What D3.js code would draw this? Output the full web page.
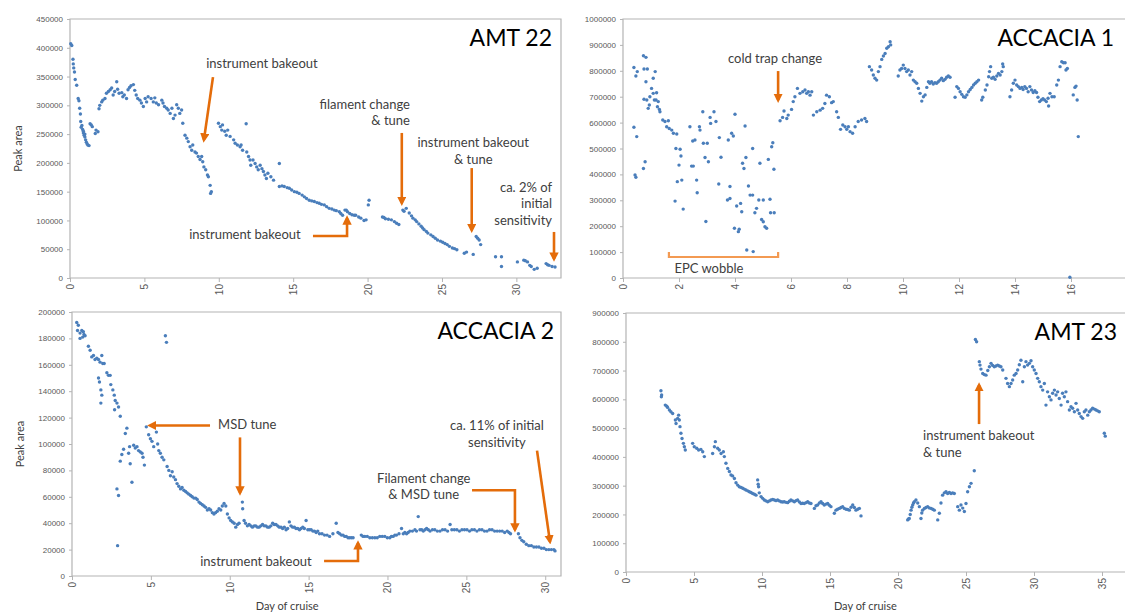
<!DOCTYPE html>
<html>
<head>
<meta charset="utf-8">
<script src="https://cdn.jsdelivr.net/npm/d3@7"></script>
<style>
  body { margin: 0; background: #fff; }
  svg text { font-family: Lato, "Open Sans", sans-serif; }
  .tick text { font-family: "Liberation Sans", Arial, sans-serif; fill: #595959; }
</style>
</head>
<body>
<div id="chart"></div>
<script>
// peak area values are in thousands, x is day of cruise
var amt22 = [
  [0.05,407],[0.12,404],[0.2,380],[0.22,372],[0.25,365],[0.3,358],[0.35,345],[0.45,335],[0.55,312],[0.6,308],
  [0.65,295],[0.7,285],[0.72,272],[0.75,262],[0.8,265],[0.85,258],[0.9,252],[0.9,255],[0.95,248],[1.0,245],
  [1.0,250],[1.05,240],[1.1,236],[1.15,233],[1.2,231],[1.28,230],
  [1.35,268],[1.43,266],[1.5,263],[1.7,251],[1.75,257],[1.88,254],
  [1.95,294],[2.0,300],[2.13,306],[2.2,309],[2.35,312],[2.45,321],[2.58,324],[2.7,327],[2.8,330],[2.9,318],
  [3.0,324],[3.14,341],[3.2,328],[3.3,321],[3.48,322],[3.55,315],[3.65,318],[3.8,312],[3.9,327],[4.0,331],
  [4.1,334],[4.26,336],[4.35,326],[4.45,318],[4.55,312],[4.7,309],[4.8,304],[4.93,298],[5.05,312],[5.15,306],
  [5.25,315],[5.45,312],[5.6,306],[5.7,313],[5.8,304],[5.95,301],[6.17,309],[6.25,304],[6.35,298],[6.5,295],
  [6.6,292],[6.73,286],[6.85,295],[6.95,277],[7.06,283],[7.17,301],[7.28,295],[7.38,286],[7.5,292],[7.58,269],
  [7.73,248],[7.85,243],[7.95,237],[8.07,228],[8.18,222],[8.25,231],[8.4,219],[8.5,217],[8.62,211],[8.74,206],
  [8.85,211],[8.92,202],[9.0,193],[9.12,188],[9.24,179],[9.3,176],[9.42,161],[9.5,150],[9.45,147],
  [9.98,269],[10.1,263],[10.2,257],[10.25,266],[10.4,255],[10.5,248],[10.6,257],[10.76,246],[11.0,240],[11.1,234],
  [11.25,231],[11.43,228],[11.5,231],[11.6,222],[11.84,268],[11.88,219],[12.0,211],[12.1,205],[12.15,196],[12.3,205],
  [12.44,199],[12.55,193],[12.65,188],[12.78,196],[12.9,190],[13.0,185],[13.1,179],[13.2,173],[13.3,182],[13.5,176],
  [13.68,170],[14.07,199],
  [14.07,159],[14.25,160],[14.4,159],[14.6,157],[14.74,156],[14.9,153],[15.08,150],[15.25,149],[15.4,147],[15.6,144],
  [15.75,141],[15.9,138],[16.08,135],[16.25,134],[16.42,133],[16.6,131],[16.75,130],[16.9,128],[17.09,127],[17.25,124],
  [17.42,121],[17.6,120],[17.76,118],[17.9,117],[18.1,115],[18.2,112],[18.32,109],[18.48,118],[18.57,118],[18.65,115],
  [18.8,112],[18.95,110],[19.1,109],[19.2,109],[19.4,106],[19.55,104],[19.76,100],[19.9,101],[20.05,127],[20.1,135],
  [21.0,106],[21.1,105],[21.2,103],[21.4,102],[21.6,101],[21.8,98],[21.95,95],[22.1,93],
  [22.37,118],[22.45,116],[22.6,121],[22.8,113],[22.95,108],[23.05,104],[23.2,101],[23.3,98],[23.45,94],[23.6,90],
  [23.7,87],[23.8,84],[23.95,81],[24.05,78],[24.25,75],[24.4,72],[24.55,69],[24.7,66],[24.9,64],[25.05,62],
  [25.2,60],[25.35,58],[25.5,55],[25.7,52],[25.85,51],[26.0,49],[26.5,43],[26.65,45],[27.1,41],
  [27.3,72],[27.4,69],[27.5,66],[27.6,58],
  [28.6,37],[29.0,37],[29.0,20],
  [30.07,28],[30.5,31],[30.6,30],[30.75,28],[30.9,22],[31.0,20],[31.2,15],[31.4,17],
  [32.0,25],[32.1,23],[32.2,22],[32.4,20],[32.6,19]
];

var accacia1 = [
  [0.39,813],[0.46,780],[0.51,797],[0.39,582],[0.49,546],[0.43,398],[0.46,389],[0.73,423],[0.79,449],[0.73,858],
  [0.82,852],[0.75,807],[0.87,807],[0.82,758],[0.75,690],[0.85,687],[0.9,655],[0.94,668],[0.96,700],[1.02,732],
  [1.08,771],[1.15,797],[1.08,713],[1.12,687],[1.18,687],[1.2,715],[1.23,661],[1.26,681],[1.3,651],[1.32,642],
  [1.42,610],[1.5,604],[1.62,607],[1.56,584],[1.65,577],[1.74,571],[1.8,559],[1.92,556],[1.89,500],[2.04,497],
  [1.86,297],[1.94,372],[2.1,378],[2.0,436],[2.07,471],[2.15,266],[2.39,584],[2.49,529],[2.57,533],[2.45,432],
  [2.51,432],[2.63,378],[2.65,329],[2.75,571],[2.73,584],[2.85,642],[2.87,520],[3.01,520],[2.93,465],[3.05,449],
  [2.96,218],[3.11,620],[3.25,642],[3.13,597],[3.32,604],[3.44,542],[3.5,466],[3.42,363],[3.76,533],[3.88,559],
  [3.94,548],[4.0,632],[3.73,301],[3.82,307],[3.82,353],[3.98,192],[4.12,179],[4.15,188],[4.06,278],[4.24,256],
  [4.2,288],[4.36,587],[4.27,443],[4.32,423],[4.39,465],[4.48,355],[4.54,320],[4.63,320],[4.63,500],[4.42,108],
  [4.65,102],[4.71,252],[4.77,269],[4.85,301],[5.01,301],[4.89,443],[4.95,226],[5.01,217],[5.07,198],[5.13,192],
  [5.19,458],[5.25,304],[5.31,507],[5.35,522],[5.27,252],[5.4,252],[5.39,420],
  [5.61,607],[5.7,620],[5.75,645],[5.85,616],[5.9,629],[6.02,651],[6.08,681],[6.14,700],[6.23,732],[6.32,713],
  [6.42,719],[6.5,726],[6.56,713],[6.62,719],[6.68,706],[6.74,719],[6.8,629],[6.92,642],[7.04,648],[7.13,655],
  [7.21,674],[7.27,706],[7.37,700],[7.45,677],[7.51,681],[7.63,642],[7.69,620],[7.77,574],[7.85,591],[7.93,584],
  [7.99,574],[8.05,584],[8.11,565],[8.2,559],[8.29,584],[8.4,604],[8.52,610],[8.64,616],[8.7,604],
  [8.8,816],[8.88,803],[8.94,784],[9.0,771],[9.06,764],[9.12,797],[9.18,816],[9.24,844],[9.3,857],[9.36,867],
  [9.42,887],[9.48,893],[9.54,912],[9.56,900],
  [9.83,780],[9.89,803],[9.95,809],[10.01,822],[10.07,809],[10.13,797],[10.19,803],[10.25,784],[10.31,797],[10.37,764],
  [10.43,758],[10.49,752],[10.55,732],[10.61,713],[10.67,683],[10.73,700],[10.79,707],[10.85,736],[10.91,758],[10.96,752],
  [11.02,758],[11.08,749],[11.14,754],[11.2,752],[11.26,758],[11.32,764],[11.38,771],[11.44,762],[11.5,767],[11.56,775],
  [11.62,780],[11.68,775],
  [11.86,698],[11.92,739],[11.98,732],[12.04,719],[12.1,709],[12.16,700],[12.22,698],[12.28,707],[12.34,719],[12.4,728],
  [12.46,736],[12.52,745],[12.58,752],[12.64,758],[12.7,764],
  [12.81,687],[12.85,698],[12.94,726],[13.0,745],[13.06,777],[13.09,797],[13.13,816],[13.17,771],[13.23,775],[13.29,767],
  [13.35,780],[13.41,790],[13.47,784],[13.53,797],[13.58,816],[13.56,826],
  [13.82,700],[13.88,726],[13.94,752],[14.0,764],[14.06,745],[14.12,739],[14.18,732],[14.24,736],[14.29,728],[14.35,739],
  [14.41,732],[14.47,719],[14.53,739],[14.59,726],[14.65,716],[14.71,723],[14.77,716],[14.82,698],[14.88,681],[14.94,687],
  [15.0,692],[15.06,687],[15.12,681],[15.18,694],[15.2,664],[15.25,713],[15.32,700],[15.4,700],
  [15.49,745],[15.55,764],[15.61,816],[15.67,835],[15.73,831],[15.79,831],[15.82,803],[15.87,809],
  [16.08,707],[16.14,736],[16.18,741],[16.22,687],[16.26,546],[15.96,3]
];

var accacia2 = [
  [0.3,192],[0.4,190],[0.35,186],[0.51,184],[0.62,186],[0.72,185],[0.76,183],[0.51,180],[0.68,181],[0.83,182],
  [1.04,174],[1.15,171],[1.25,166],[1.36,167],[1.46,164],[1.57,165],[1.68,164],[1.78,162],[1.89,167],[1.95,161],
  [2.04,161],[1.68,150],[1.74,147],[1.83,141],[1.89,137],[1.83,131],[2.21,154],[2.31,152],[2.42,152],[2.46,145],
  [2.59,141],[2.68,137],[2.74,133],[2.85,131],[2.95,128],[3.06,121],[2.7,126],[2.85,66],[2.95,61],[2.89,23],
  [3.06,87],[3.16,92],[3.27,96],[3.38,108],[3.48,112],[3.65,98],[3.59,93],[3.8,71],[3.69,85],[3.91,99],
  [4.01,97],[4.12,98],[4.22,95],[4.33,94],[4.44,93],[4.5,90],[4.59,84],[4.71,113],[4.86,107],[4.97,104],
  [5.07,102],[5.18,98],[5.35,109],[5.43,100],[5.5,95],[5.6,93],[5.71,90],[5.82,88],[5.92,182],[5.99,177],
  [6.03,83],[6.14,80],[6.24,76],[6.35,79],[6.45,75],[6.56,73],[6.66,70],[6.77,68],[6.88,66],[6.98,67],
  [7.09,65],[7.2,64],[7.3,63],[7.41,62],[7.52,61],[7.62,60],[7.73,59],[7.84,59],[7.94,58],[8.05,56],
  [8.15,55],[8.26,54],[8.37,53],[8.47,52],[8.58,50],[8.69,51],[8.79,50],[8.9,48],[9.0,47],[9.1,48],
  [9.21,49],[9.32,51],[9.43,50],[9.53,53],[9.64,55],[9.75,53],[9.85,47],[9.96,44],[10.06,42],[10.17,41],
  [10.28,40],[10.38,37],[10.49,39],[10.59,40],[10.8,56],[10.82,51],[10.91,42],[11.0,40],[11.12,38],[11.23,39],
  [11.34,38],[11.44,37],[11.55,38],[11.65,38],[11.76,37],[11.86,37],[11.97,38],[12.08,39],[12.18,38],[12.29,38],
  [12.4,37],[12.5,37],[12.61,38],[12.72,40],[12.82,39],[12.93,39],[13.04,38],[13.14,37],[13.25,37],[13.35,36],
  [13.46,37],[13.57,35],[13.67,36],[13.78,41],[13.88,38],[13.99,37],[14.1,37],[14.2,36],[14.31,36],[14.42,35],
  [14.52,36],[14.63,37],[14.73,36],[14.84,42],[14.95,35],[15.05,35],[15.16,35],[15.27,34],[15.37,34],[15.48,33],
  [15.58,34],[15.69,32],[15.85,32],[16.01,31],[16.17,31],[16.33,30],[16.54,32],[16.75,40],[16.86,33],[16.97,32],
  [17.08,31],[17.18,31],[17.29,30],[17.39,30],[17.5,29],[17.6,29],[17.71,29],[17.82,29],
  [18.34,31],[18.45,30],[18.56,30],[18.72,30],[18.88,29],[19.04,29],[19.2,29],[19.35,29],[19.51,30],[19.67,30],
  [19.83,30],[19.99,29],[20.15,29],[20.25,30],[20.36,30],[20.47,31],[20.57,31],[20.73,32],[20.89,36],[21.0,32],
  [21.1,33],[21.21,32],[21.31,33],[21.42,34],[21.58,34],[21.74,35],[21.84,34],[21.95,45],[22.06,35],[22.17,35],
  [22.27,34],[22.38,35],[22.48,36],[22.59,35],[22.7,34],[22.85,35],[23.0,35],[23.16,34],[23.33,34],[23.49,35],
  [23.65,35],[23.81,34],[23.97,39],[24.08,35],[24.24,35],[24.4,35],[24.56,34],[24.72,35],[24.88,35],[25.04,35],
  [25.2,34],[25.35,35],[25.51,35],[25.67,34],[25.83,35],[25.99,35],[26.15,34],[26.31,34],[26.47,35],[26.63,35],
  [26.79,34],[26.95,34],[27.11,34],[27.27,34],[27.43,33],[27.59,34],[27.7,33],[27.8,32],
  [28.3,32],[28.4,29],[28.52,27],[28.64,26],[28.8,24],[28.96,23],[29.12,23],[29.28,22],[29.44,22],[29.6,22],
  [29.76,21],[29.92,21],[30.07,20],[30.23,20],[30.39,20],[30.55,20],[30.62,19]
];

var amt23 = [
  [2.57,630],[2.62,615],[2.6,609],[2.89,580],[3.0,576],[3.06,572],[3.19,563],[3.3,557],[3.43,551],[3.63,528],
  [3.68,516],[3.8,534],[3.87,545],[3.92,528],[3.97,505],[4.04,482],[4.12,464],[4.22,447],[4.29,435],[4.36,424],
  [4.9,447],[5.02,435],[5.2,430],[5.34,424],[5.51,426],[5.64,418],[5.76,401],
  [6.37,412],[6.5,435],[6.57,453],[6.74,430],[6.86,424],[6.99,412],[7.16,418],[7.23,401],[7.35,378],[7.48,360],
  [7.6,349],[7.72,337],[7.84,334],[7.97,325],[8.09,310],[8.21,302],[8.33,296],[8.46,294],[8.58,291],[8.7,288],
  [8.82,285],[8.95,282],[9.07,279],[9.19,276],[9.31,273],[9.44,270],[9.56,267],[9.68,320],[9.72,305],[9.75,296],
  [9.8,275],[9.93,262],[10.05,256],[10.17,250],[10.3,247],[10.42,244],[10.54,247],[10.66,250],[10.79,252],[10.91,250],
  [11.03,248],[11.15,250],[11.28,247],[11.4,244],[11.52,243],[11.64,244],[11.77,242],[11.89,241],[12.01,246],[12.13,250],
  [12.26,247],[12.38,244],[12.5,248],[12.62,250],[12.75,243],[12.87,238],[12.99,239],[13.11,238],[13.24,241],[13.36,244],
  [13.48,240],[13.6,238],[13.85,221],[13.97,230],[14.09,233],[14.22,240],[14.34,244],[14.46,238],[14.58,233],[14.71,236],
  [14.83,238],[14.95,232],[15.07,227],[15.32,204],[15.44,215],[15.56,218],[15.69,221],[15.81,224],[15.93,227],[16.05,221],
  [16.18,218],[16.3,217],[16.42,215],[16.55,225],[16.67,233],[16.79,224],[16.91,215],[17.04,218],[17.16,221],[17.28,195],
  [20.71,181],[20.77,184],[20.83,186],[20.9,200],[20.96,215],[21.02,225],[21.08,233],[21.14,240],[21.2,244],[21.32,250],
  [21.45,240],[21.57,227],[21.69,186],[21.75,205],[21.81,215],[21.94,221],[22.06,224],[22.18,227],[22.3,223],[22.43,221],
  [22.55,218],[22.67,215],[22.92,181],[23.04,204],[23.16,240],[23.28,267],[23.41,275],[23.53,279],[23.65,273],[23.78,276],
  [23.9,273],[24.02,275],[24.14,273],[24.39,227],[24.51,215],[24.63,233],[24.76,222],[24.88,210],[25.0,238],[25.12,279],
  [25.25,296],[25.37,308],[25.61,352],
  [25.69,808],[25.78,800],[25.98,731],[26.03,719],[26.1,705],[26.23,690],[26.35,686],[26.47,684],[26.6,700],[26.72,713],
  [26.84,725],[26.96,718],[27.08,713],[27.2,716],[27.33,719],[27.45,716],[27.57,713],[27.7,702],[27.94,673],[28.06,655],
  [28.19,644],[28.31,655],[28.43,667],[28.55,684],[28.68,690],[28.8,702],[28.92,720],[29.04,736],[29.17,661],[29.29,713],
  [29.41,731],[29.53,719],[29.66,725],[29.78,734],[29.9,713],[30.02,702],[30.15,690],[30.27,673],[30.39,661],[30.51,644],
  [30.64,632],[30.76,655],[30.88,580],[31.0,626],[31.13,609],[31.25,598],[31.37,621],[31.5,632],[31.62,615],[31.74,626],
  [31.86,603],[31.99,580],[32.1,621],[32.23,609],[32.35,626],[32.47,592],[32.6,563],[32.72,574],[32.84,569],[32.97,557],
  [33.09,586],[33.21,563],[33.33,551],[33.46,540],[33.58,534],[33.7,557],[33.82,563],[33.95,545],[34.07,557],[34.19,563],
  [34.31,569],[34.44,566],[34.56,563],[34.68,560],[34.8,557],[35.17,482],[35.24,472]
];

var blue = "#4a7ebb";
var orange = "#e46c0a";
var frameColor = "#b4b4b4";
var textColor = "#404040";

var panels = [
  {
    title: "AMT 22", data: amt22, left: 70, right: 561, top: 19, bottom: 278,
    xMax: 33, xTicks: [0, 5, 10, 15, 20, 25, 30], yMax: 450, yTicks: d3.range(0, 451, 50),
    titleX: 552, yLabel: true, xLabel: false,
    notes: [
      {d: 12.9, v: 372, anchor: "middle", lines: ["instrument bakeout"]},
      {d: 22.85, v: 302, anchor: "end", lines: ["filament change", "& tune"]},
      {d: 27.1, v: 235, anchor: "middle", lines: ["instrument bakeout", "& tune"]},
      {d: 32.4, v: 158, anchor: "end", lines: ["ca. 2% of", "initial", "sensitivity"]},
      {d: 11.76, v: 75, anchor: "middle", lines: ["instrument bakeout"]}
    ],
    arrows: [
      [[9.61, 349], [9.0, 240]],
      [[22.3, 252], [22.3, 130]],
      [[27.0, 191], [27.0, 83]],
      [[32.53, 80], [32.53, 33]],
      [[16.33, 73], [18.62, 73], [18.62, 104]]
    ],
    brackets: []
  },
  {
    title: "ACCACIA 1", data: accacia1, left: 623, right: 1127, top: 19, bottom: 278,
    xMax: 18, xTicks: [0, 2, 4, 6, 8, 10, 12, 14, 16], yMax: 1000, yTicks: d3.range(0, 1001, 100),
    titleX: 1114, yLabel: false, xLabel: false,
    notes: [
      {d: 5.43, v: 846, anchor: "middle", lines: ["cold trap change"]},
      {d: 3.07, v: 35, anchor: "middle", lines: ["EPC wobble"]}
    ],
    arrows: [
      [[5.54, 799], [5.54, 687]]
    ],
    brackets: [
      [[1.64, 100], [1.64, 81], [5.54, 81], [5.54, 100]]
    ]
  },
  {
    title: "ACCACIA 2", data: accacia2, left: 72, right: 561, top: 312, bottom: 576,
    xMax: 31, xTicks: [0, 5, 10, 15, 20, 25, 30], yMax: 200, yTicks: d3.range(0, 201, 20),
    titleX: 554, yLabel: true, xLabel: true,
    notes: [
      {d: 9.26, v: 115, anchor: "start", lines: ["MSD tune"]},
      {d: 11.66, v: 11.4, anchor: "middle", lines: ["instrument bakeout"]},
      {d: 22.3, v: 74, anchor: "middle", lines: ["Filament change", "& MSD tune"]},
      {d: 26.94, v: 114, anchor: "middle", lines: ["ca. 11% of initial", "sensitivity"]}
    ],
    arrows: [
      [[8.75, 114], [4.94, 114]],
      [[10.65, 105], [10.65, 63]],
      [[15.98, 11.4], [18.13, 11.4], [18.13, 25]],
      [[25.36, 65], [28.08, 65], [28.08, 35]],
      [[29.48, 95], [30.3, 26]]
    ],
    brackets: []
  },
  {
    title: "AMT 23", data: amt23, left: 626, right: 1170, top: 313, bottom: 572,
    xMax: 40, xTicks: [0, 5, 10, 15, 20, 25, 30, 35], yMax: 900, yTicks: d3.range(0, 901, 100),
    titleX: 1117, yLabel: false, xLabel: true,
    notes: [
      {d: 21.84, v: 473, anchor: "start", lines: ["instrument bakeout", "& tune"]}
    ],
    arrows: [
      [[25.96, 514], [25.96, 650]]
    ],
    brackets: []
  }
];

var W = 1125, H = 612;

var svg = d3.select("#chart").append("svg")
    .attr("width", W)
    .attr("height", H);

svg.append("defs").append("marker")
    .attr("id", "head")
    .attr("viewBox", "0 0 10 10")
    .attr("refX", 7)
    .attr("refY", 5)
    .attr("markerWidth", 3.6)
    .attr("markerHeight", 3.6)
    .attr("orient", "auto")
  .append("path")
    .attr("d", "M0,0L10,5L0,10Z")
    .attr("fill", orange);

panels.forEach(function(p) {
  var x = d3.scaleLinear().domain([0, p.xMax]).range([p.left, p.right]);
  var y = d3.scaleLinear().domain([0, p.yMax]).range([p.bottom, p.top]);
  var g = svg.append("g");

  // plot frame
  g.append("path")
      .attr("d", "M" + p.left + "," + p.bottom + "V" + p.top + "H" + p.right + "V" + p.bottom + "Z")
      .attr("fill", "none")
      .attr("stroke", frameColor)
      .attr("stroke-width", 1.2);

  var yAxis = g.append("g")
      .attr("transform", "translate(" + p.left + ",0)")
      .call(d3.axisLeft(y).tickValues(p.yTicks).tickSize(3).tickPadding(4)
        .tickFormat(function(d) { return d * 1000; }));
  yAxis.select(".domain").remove();
  yAxis.selectAll(".tick line").attr("stroke", frameColor);
  yAxis.selectAll(".tick text").style("font-size", "8px");

  var xAxis = g.append("g")
      .attr("transform", "translate(0," + p.bottom + ")")
      .call(d3.axisBottom(x).tickValues(p.xTicks).tickSize(4));
  xAxis.select(".domain").remove();
  xAxis.selectAll(".tick line").attr("stroke", frameColor);
  xAxis.selectAll(".tick text")
      .attr("transform", "rotate(-90)")
      .attr("x", -6)
      .attr("y", 0)
      .attr("dy", "0.35em")
      .style("text-anchor", "end")
      .style("font-size", "10px");

  // points
  g.append("g")
    .selectAll("circle")
    .data(p.data)
    .enter().append("circle")
      .attr("cx", function(d) { return x(d[0]); })
      .attr("cy", function(d) { return y(d[1]); })
      .attr("r", 1.7)
      .attr("fill", blue);

  // title
  g.append("text")
      .attr("x", p.titleX)
      .attr("y", p.top + 19)
      .attr("dy", "0.35em")
      .attr("text-anchor", "end")
      .style("font-size", "23px")
      .attr("fill", "#000")
      .text(p.title);

  var line = d3.line()
      .x(function(d) { return x(d[0]); })
      .y(function(d) { return y(d[1]); });

  g.selectAll(".arrow")
    .data(p.arrows)
    .enter().append("path")
      .attr("class", "arrow")
      .attr("d", line)
      .attr("fill", "none")
      .attr("stroke", orange)
      .attr("stroke-width", 2.6)
      .attr("marker-end", "url(#head)");

  g.selectAll(".bracket")
    .data(p.brackets)
    .enter().append("path")
      .attr("class", "bracket")
      .attr("d", line)
      .attr("fill", "none")
      .attr("stroke", "#f39a52")
      .attr("stroke-width", 2.2);

  p.notes.forEach(function(n) {
    var t = g.append("text")
        .attr("text-anchor", n.anchor)
        .attr("fill", textColor)
        .style("font-size", "13px");
    n.lines.forEach(function(s, i) {
      t.append("tspan")
          .attr("x", x(n.d))
          .attr("y", y(n.v) + i * 16.5)
          .attr("dy", "0.35em")
          .text(s);
    });
  });

  if (p.yLabel) {
    g.append("text")
        .attr("transform", "translate(" + (p.left - 52) + "," + ((p.top + p.bottom) / 2) + ") rotate(-90)")
        .attr("text-anchor", "middle")
        .attr("dy", "0.35em")
        .attr("fill", textColor)
        .style("font-size", "11px")
        .text("Peak area");
  }
  if (p.xLabel) {
    g.append("text")
        .attr("x", p.left + (p.right - p.left) * 0.44)
        .attr("y", 606)
        .attr("text-anchor", "middle")
        .attr("dy", "0.35em")
        .attr("fill", textColor)
        .style("font-size", "11px")
        .text("Day of cruise");
  }
});
</script>
</body>
</html>
